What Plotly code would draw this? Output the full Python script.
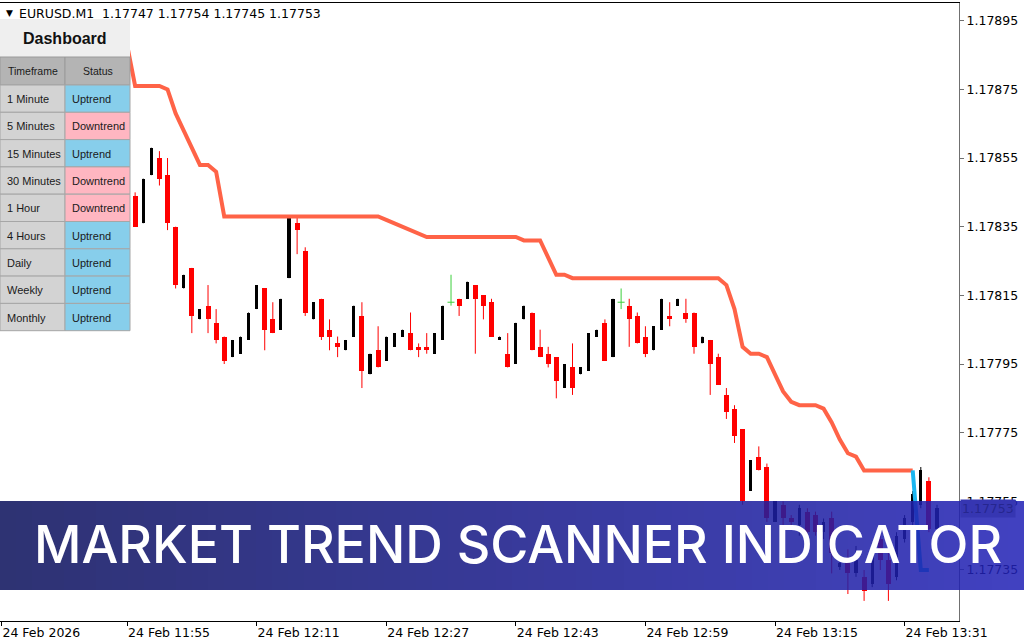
import pandas as pd
import plotly.graph_objects as go

# ---------------- data ----------------
symbol_header = "EURUSD.M1\u00a0\u00a01.17747 1.17754 1.17745 1.17753"
last_price = 1.17753

candle_start = "2026-02-24 11:56"
opens = [1.17844, 1.17836, 1.17850, 1.17855, 1.17850, 1.17835, 1.17817, 1.17823, 1.17808, 1.17812,
         1.17807, 1.17803, 1.17797, 1.17798, 1.17802, 1.17811, 1.17817, 1.17808, 1.17805, 1.17820,
         1.17836, 1.17828, 1.17808, 1.17814, 1.17805, 1.17801, 1.17799, 1.17803, 1.17809, 1.17792,
         1.17799, 1.17796, 1.17800, 1.17803, 1.17804, 1.17800, 1.17800, 1.17798, 1.17802, 1.17813,
         1.17814, 1.17814, 1.17818, 1.17815, 1.17813, 1.17802, 1.17798, 1.17795, 1.17808, 1.17810,
         1.17800, 1.17798, 1.17797, 1.17788, 1.17794, 1.17792, 1.17793, 1.17803, 1.17807, 1.17797,
         1.17813, 1.17812, 1.17809, 1.17803, 1.17799, 1.17805, 1.17809, 1.17812, 1.17810, 1.17810,
         1.17801, 1.17802, 1.17797, 1.17786, 1.17782, 1.17776, 1.17758, 1.17768, 1.17765, 1.17749,
         1.17754, 1.17750, 1.17748, 1.17752, 1.17751, 1.17746, 1.17750, 1.17736, 1.17737, 1.17734,
         1.17733, 1.17731, 1.17744, 1.17738, 1.17733, 1.17744, 1.17749, 1.17754, 1.17761, 1.17747]
highs = [1.17845, 1.17849, 1.17858, 1.17857, 1.17855, 1.17835, 1.17821, 1.17823, 1.17811, 1.17818,
         1.17811, 1.17803, 1.17802, 1.17803, 1.17810, 1.17818, 1.17817, 1.17813, 1.17814, 1.17838,
         1.17838, 1.17829, 1.17813, 1.17814, 1.17808, 1.17803, 1.17802, 1.17812, 1.17813, 1.17798,
         1.17806, 1.17803, 1.17804, 1.17805, 1.17810, 1.17801, 1.17804, 1.17804, 1.17812, 1.17821,
         1.17814, 1.17819, 1.17818, 1.17815, 1.17814, 1.17803, 1.17804, 1.17807, 1.17812, 1.17810,
         1.17805, 1.17800, 1.17797, 1.17795, 1.17801, 1.17794, 1.17804, 1.17805, 1.17808, 1.17814,
         1.17817, 1.17814, 1.17810, 1.17806, 1.17806, 1.17814, 1.17813, 1.17814, 1.17814, 1.17810,
         1.17803, 1.17802, 1.17798, 1.17788, 1.17783, 1.17776, 1.17767, 1.17771, 1.17766, 1.17755,
         1.17755, 1.17751, 1.17754, 1.17753, 1.17752, 1.17750, 1.17752, 1.17738, 1.17741, 1.17742,
         1.17735, 1.17743, 1.17746, 1.17741, 1.17746, 1.17751, 1.17758, 1.17765, 1.17762, 1.17754]
lows = [1.17835, 1.17836, 1.17850, 1.17847, 1.17834, 1.17817, 1.17817, 1.17804, 1.17808, 1.17804,
        1.17801, 1.17795, 1.17797, 1.17798, 1.17802, 1.17811, 1.17799, 1.17804, 1.17805, 1.17820,
        1.17827, 1.17809, 1.17808, 1.17802, 1.17799, 1.17797, 1.17799, 1.17803, 1.17788, 1.17792,
        1.17794, 1.17796, 1.17800, 1.17803, 1.17799, 1.17797, 1.17798, 1.17798, 1.17802, 1.17812,
        1.17809, 1.17814, 1.17798, 1.17808, 1.17803, 1.17802, 1.17794, 1.17795, 1.17808, 1.17799,
        1.17797, 1.17794, 1.17785, 1.17788, 1.17786, 1.17792, 1.17793, 1.17803, 1.17796, 1.17797,
        1.17811, 1.17800, 1.17801, 1.17797, 1.17799, 1.17805, 1.17806, 1.17812, 1.17807, 1.17798,
        1.17801, 1.17786, 1.17789, 1.17779, 1.17772, 1.17754, 1.17758, 1.17764, 1.17749, 1.17749,
        1.17748, 1.17748, 1.17745, 1.17744, 1.17745, 1.17744, 1.17734, 1.17735, 1.17728, 1.17733,
        1.17726, 1.17730, 1.17735, 1.17726, 1.17732, 1.17743, 1.17747, 1.17753, 1.17746, 1.17745]
closes = [1.17835, 1.17849, 1.17858, 1.17849, 1.17836, 1.17818, 1.17821, 1.17809, 1.17811, 1.17808,
          1.17802, 1.17796, 1.17802, 1.17803, 1.17810, 1.17818, 1.17805, 1.17804, 1.17814, 1.17838,
          1.17834, 1.17810, 1.17813, 1.17803, 1.17803, 1.17800, 1.17802, 1.17812, 1.17793, 1.17798,
          1.17794, 1.17803, 1.17804, 1.17805, 1.17799, 1.17799, 1.17799, 1.17804, 1.17812, 1.17813,
          1.17812, 1.17819, 1.17814, 1.17812, 1.17803, 1.17803, 1.17794, 1.17807, 1.17812, 1.17799,
          1.17797, 1.17795, 1.17790, 1.17795, 1.17788, 1.17794, 1.17804, 1.17805, 1.17796, 1.17814,
          1.17813, 1.17808, 1.17801, 1.17798, 1.17806, 1.17814, 1.17808, 1.17814, 1.17808, 1.17800,
          1.17803, 1.17795, 1.17789, 1.17781, 1.17774, 1.17755, 1.17767, 1.17764, 1.17750, 1.17755,
          1.17750, 1.17749, 1.17753, 1.17746, 1.17746, 1.17749, 1.17740, 1.17737, 1.17734, 1.17738,
          1.17729, 1.17742, 1.17738, 1.17731, 1.17745, 1.17750, 1.17757, 1.17764, 1.17747, 1.17753]

trend_start = "2026-02-24 11:55"
trend_down = [1.17888, 1.17876, 1.17876, 1.17876, 1.17876, 1.17875, 1.17868, 1.17863, 1.17858, 1.17853,
              1.17853, 1.17851, 1.17838, 1.17838, 1.17838, 1.17838, 1.17838, 1.17838, 1.17838, 1.17838,
              1.17838, 1.17838, 1.17838, 1.17838, 1.17838, 1.17838, 1.17838, 1.17838, 1.17838, 1.17838,
              1.17838, 1.17838, 1.17837, 1.17836, 1.17835, 1.17834, 1.17833, 1.17832, 1.17832, 1.17832,
              1.17832, 1.17832, 1.17832, 1.17832, 1.17832, 1.17832, 1.17832, 1.17832, 1.17832, 1.17831,
              1.17831, 1.17831, 1.17826, 1.17821, 1.17821, 1.17820, 1.17820, 1.17820, 1.17820, 1.17820,
              1.17820, 1.17820, 1.17820, 1.17820, 1.17820, 1.17820, 1.17820, 1.17820, 1.17820, 1.17820,
              1.17820, 1.17820, 1.17820, 1.17820, 1.17818, 1.17811, 1.17800, 1.17798, 1.17798, 1.17797,
              1.17792, 1.17787, 1.17784, 1.17783, 1.17783, 1.17783, 1.17782, 1.17778, 1.17773, 1.17769,
              1.17768, 1.17764, 1.17764, 1.17764, 1.17764, 1.17764, 1.17764, 1.17764]
trend_up_times = ["2026-02-24 13:32:00", "2026-02-24 13:33:00", "2026-02-24 13:34:00"]
trend_up = [1.17764, 1.17735, 1.17735]

x_tick_times = ["2026-02-24 11:39:30", "2026-02-24 11:55:00", "2026-02-24 12:11:00", "2026-02-24 12:27:00",
                "2026-02-24 12:43:00", "2026-02-24 12:59:00", "2026-02-24 13:15:00", "2026-02-24 13:31:00"]
x_tick_labels = ["24 Feb 2026", "24 Feb 11:55", "24 Feb 12:11", "24 Feb 12:27",
                 "24 Feb 12:43", "24 Feb 12:59", "24 Feb 13:15", "24 Feb 13:31"]
y_tick_vals = [1.17735, 1.17755, 1.17775, 1.17795, 1.17815, 1.17835, 1.17855, 1.17875, 1.17895]
y_tick_labels = ["1.17735", "1.17755", "1.17775", "1.17795", "1.17815", "1.17835", "1.17855", "1.17875", "1.17895"]

dash_title = "Dashboard"
dash_headers = ["Timeframe", "Status"]
timeframes = ["1 Minute", "5 Minutes", "15 Minutes", "30 Minutes", "1 Hour", "4 Hours", "Daily", "Weekly", "Monthly"]
statuses = ["Uptrend", "Downtrend", "Uptrend", "Downtrend", "Downtrend", "Uptrend", "Uptrend", "Uptrend", "Uptrend"]

banner_text = "MARKET TREND SCANNER INDICATOR"

# ---------------- geometry helpers (pixel -> paper) ----------------
W, H = 1024, 640
ML, MR, MT, MB = 0, 65, 3, 19
PW = W - ML - MR
PH = H - MT - MB


def pxx(x):
    return (x - ML) / PW


def pxy(y):
    return (H - MB - y) / PH


times = pd.date_range(candle_start, periods=len(opens), freq="min")
trend_times = pd.date_range(trend_start, periods=len(trend_down), freq="min")

RED = "#ff0000"
BLACK = "#000000"
GREEN = "#3ccf3c"

fig = go.Figure()

# wicks
groups = {"bear": ([], [], RED), "bull": ([], [], BLACK), "doji": ([], [], GREEN)}
for t, o, h, l, c in zip(times, opens, highs, lows, closes):
    key = "doji" if o == c else ("bull" if c > o else "bear")
    xs, ys, _ = groups[key]
    xs += [t, t, None]
    ys += [l, h, None]
for key, (xs, ys, col) in groups.items():
    fig.add_trace(go.Scatter(x=xs, y=ys, mode="lines", line=dict(color=col, width=1),
                             hoverinfo="skip", showlegend=False))

# bodies
bear_x, bear_lo, bear_h = [], [], []
bull_x, bull_lo, bull_h = [], [], []
doji_x, doji_y = [], []
for t, o, c in zip(times, opens, closes):
    if o == c:
        doji_x.append(t)
        doji_y.append(o)
    elif c > o:
        bull_x.append(t); bull_lo.append(o); bull_h.append(c - o)
    else:
        bear_x.append(t); bear_lo.append(c); bear_h.append(o - c)

MIN_MS = 60000
fig.add_trace(go.Bar(x=bear_x, y=bear_h, base=bear_lo, width=0.62 * MIN_MS,
                     marker=dict(color=RED, line=dict(width=0)), hoverinfo="skip", showlegend=False))
fig.add_trace(go.Bar(x=bull_x, y=bull_h, base=bull_lo, width=0.38 * MIN_MS,
                     marker=dict(color=BLACK, line=dict(width=0)), hoverinfo="skip", showlegend=False))
fig.add_trace(go.Scatter(x=doji_x, y=doji_y, mode="markers",
                         marker=dict(symbol="line-ew-open", size=5, color=GREEN, line=dict(color=GREEN, width=1)),
                         hoverinfo="skip", showlegend=False))

# trend lines
fig.add_trace(go.Scatter(x=trend_times, y=trend_down, mode="lines",
                         line=dict(color="#ff6347", width=4), hoverinfo="skip", showlegend=False))
fig.add_trace(go.Scatter(x=pd.to_datetime(trend_up_times, format="mixed"), y=trend_up, mode="lines",
                         line=dict(color="#1ab6f0", width=4), hoverinfo="skip", showlegend=False))

shapes = []
annotations = []

# ---------------- dashboard ----------------
shapes.append(dict(type="rect", xref="paper", yref="paper", x0=pxx(0), x1=pxx(130), y0=pxy(57), y1=pxy(19),
                   fillcolor="#efefef", line=dict(width=0), layer="above"))
annotations.append(dict(xref="paper", yref="paper", x=pxx(65), y=pxy(38), text="<b>" + dash_title + "</b>",
                        showarrow=False, xanchor="center", yanchor="middle",
                        font=dict(family="Liberation Sans, Arial", size=16, color="#111111")))
cols = [(0, 65), (65, 130)]
for (x0, x1), label in zip(cols, dash_headers):
    shapes.append(dict(type="rect", xref="paper", yref="paper", x0=pxx(x0), x1=pxx(x1), y0=pxy(85), y1=pxy(57),
                       fillcolor="#b4b4b4", line=dict(color="#9a9a9a", width=1), layer="above"))
    annotations.append(dict(xref="paper", yref="paper", x=pxx((x0 + x1) / 2), y=pxy(71.5), text=label,
                            showarrow=False, xanchor="center", yanchor="middle",
                            font=dict(family="Liberation Sans, Arial", size=10.5, color="#1a1a1a")))
ROW_H = 27.3
for i, (tf, st) in enumerate(zip(timeframes, statuses)):
    y0 = 85 + i * ROW_H
    y1 = y0 + ROW_H
    ymid = (y0 + y1) / 2 + 0.5
    shapes.append(dict(type="rect", xref="paper", yref="paper", x0=pxx(0), x1=pxx(65), y0=pxy(y1), y1=pxy(y0),
                       fillcolor="#d3d3d3", line=dict(color="#a6a6a6", width=1), layer="above"))
    shapes.append(dict(type="rect", xref="paper", yref="paper", x0=pxx(65), x1=pxx(130), y0=pxy(y1), y1=pxy(y0),
                       fillcolor="#87ceeb" if st == "Uptrend" else "#ffb6c1",
                       line=dict(color="#a6a6a6", width=1), layer="above"))
    annotations.append(dict(xref="paper", yref="paper", x=pxx(5), y=pxy(ymid), text=tf, showarrow=False,
                            xanchor="left", yanchor="middle",
                            font=dict(family="Liberation Sans, Arial", size=11, color="#1a1a1a")))
    annotations.append(dict(xref="paper", yref="paper", x=pxx(70), y=pxy(ymid), text=st, showarrow=False,
                            xanchor="left", yanchor="middle",
                            font=dict(family="Liberation Sans, Arial", size=11, color="#1a1a1a")))

# ---------------- banner (horizontal gradient via strips) ----------------
N = 64
c_left = (12, 17, 92)
c_right = (34, 34, 182)
for i in range(N):
    f = i / (N - 1)
    r = round(c_left[0] + (c_right[0] - c_left[0]) * f)
    g = round(c_left[1] + (c_right[1] - c_left[1]) * f)
    b = round(c_left[2] + (c_right[2] - c_left[2]) * f)
    shapes.append(dict(type="rect", xref="paper", yref="paper",
                       x0=pxx(i * W / N), x1=pxx((i + 1) * W / N), y0=pxy(590), y1=pxy(501),
                       fillcolor=f"rgb({r},{g},{b})", opacity=0.86, line=dict(width=0), layer="above"))

annotations.append(dict(xref="paper", yref="paper", x=pxx(518), y=pxy(544), text=banner_text, showarrow=False,
                        xanchor="center", yanchor="middle",
                        font=dict(family="Inter, Lato, sans-serif", size=52, weight=500, color="#ffffff")))

# current price label (under banner look)
annotations.append(dict(xref="paper", yref="y", x=pxx(960), y=last_price, text=f"{last_price:.5f}",
                        showarrow=False, xanchor="left", yanchor="middle", bgcolor="#3636b2",
                        borderpad=1, font=dict(family="DejaVu Sans", size=12.5, color="#26268f")))

# header text
annotations.append(dict(xref="paper", yref="paper", x=pxx(4), y=pxy(13), text="\u25BC", showarrow=False,
                        xanchor="left", yanchor="middle",
                        font=dict(family="DejaVu Sans", size=9, color="#000000")))
annotations.append(dict(xref="paper", yref="paper", x=pxx(17), y=pxy(13), text=symbol_header, showarrow=False,
                        xanchor="left", yanchor="middle",
                        font=dict(family="DejaVu Sans", size=12.5, color="#000000")))

fig.update_layout(
    width=W, height=H,
    margin=dict(l=ML, r=MR, t=MT, b=MB, pad=0),
    paper_bgcolor="#ffffff", plot_bgcolor="#ffffff",
    barmode="overlay", bargap=0,
    hovermode=False, showlegend=False,
    shapes=shapes, annotations=annotations,
    xaxis=dict(
        type="date",
        range=["2026-02-24 11:39:19", "2026-02-24 13:37:43"],
        tickvals=pd.to_datetime(x_tick_times, format="mixed"), ticktext=x_tick_labels,
        ticks="outside", ticklen=4, tickcolor="#000000",
        ticklabelposition="outside right",
        showline=True, linecolor="#000000", linewidth=1, mirror=True,
        showgrid=False, zeroline=False,
        tickfont=dict(family="DejaVu Sans", size=12.5, color="#000000"),
    ),
    yaxis=dict(
        side="right",
        range=[1.1772014, 1.1790016],
        tickvals=y_tick_vals, ticktext=y_tick_labels,
        ticks="outside", ticklen=4, tickcolor="#707070",
        showline=True, linecolor="#707070", linewidth=1,
        showgrid=False, zeroline=False,
        tickfont=dict(family="DejaVu Sans", size=12.5, color="#000000"),
    ),
)

fig.write_html("out.html", config={"displayModeBar": False},
               post_script="document.body.style.margin='0';")
